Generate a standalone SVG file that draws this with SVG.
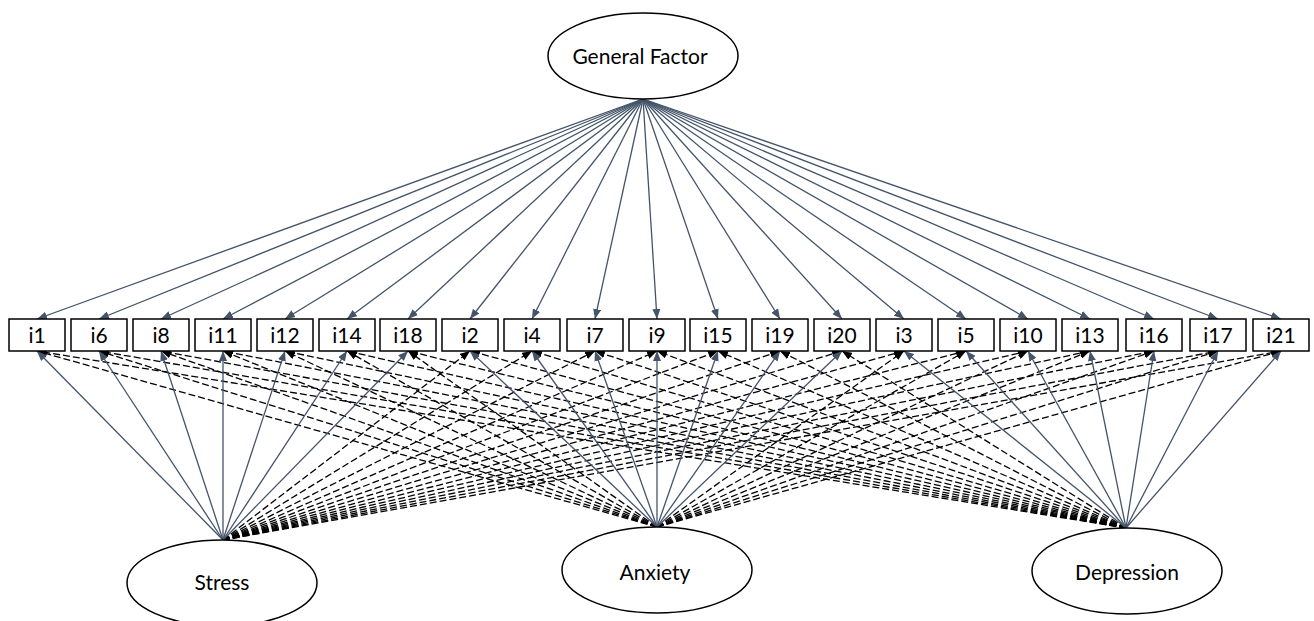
<svg xmlns="http://www.w3.org/2000/svg" width="1314" height="621" viewBox="0 0 1314 621">
<style>
.bg{fill:#ffffff}
.node ellipse{fill:#ffffff;stroke:#000000;stroke-width:1.5}
.node rect{fill:#ffffff;stroke:#000000;stroke-width:1.5}
.lbl{font-family:Lato,"Open Sans","Liberation Sans",sans-serif;font-size:21px;fill:#000000;text-anchor:middle}
.sl{stroke:#44546A;stroke-width:1.3;fill:none;marker-end:url(#ah)}
.dl{stroke:#000000;stroke-width:1.3;fill:none;stroke-dasharray:7,3;marker-end:url(#ahd)}
</style>
<defs>
<marker id="ah" markerUnits="userSpaceOnUse" markerWidth="10" markerHeight="8" refX="10" refY="4" orient="auto"><path d="M0,0 L10,4 L0,8 z" fill="#44546A"/></marker>
<marker id="ahd" markerUnits="userSpaceOnUse" markerWidth="10" markerHeight="8" refX="10" refY="4" orient="auto"><path d="M0,0 L10,4 L0,8 z" fill="#000000"/></marker>
</defs>
<rect class="bg" x="0" y="0" width="1314" height="621"/>
<g id="connectors">
<g id="general-loadings">
<line class="sl" x1="643" y1="99" x2="37" y2="319"/>
<line class="sl" x1="643" y1="99" x2="99" y2="319"/>
<line class="sl" x1="643" y1="99" x2="161" y2="319"/>
<line class="sl" x1="643" y1="99" x2="223" y2="319"/>
<line class="sl" x1="643" y1="99" x2="285" y2="319"/>
<line class="sl" x1="643" y1="99" x2="347" y2="319"/>
<line class="sl" x1="643" y1="99" x2="408" y2="319"/>
<line class="sl" x1="643" y1="99" x2="470" y2="319"/>
<line class="sl" x1="643" y1="99" x2="532" y2="319"/>
<line class="sl" x1="643" y1="99" x2="595" y2="319"/>
<line class="sl" x1="643" y1="99" x2="657" y2="319"/>
<line class="sl" x1="643" y1="99" x2="718" y2="319"/>
<line class="sl" x1="643" y1="99" x2="780" y2="319"/>
<line class="sl" x1="643" y1="99" x2="842" y2="319"/>
<line class="sl" x1="643" y1="99" x2="904" y2="319"/>
<line class="sl" x1="643" y1="99" x2="966" y2="319"/>
<line class="sl" x1="643" y1="99" x2="1028" y2="319"/>
<line class="sl" x1="643" y1="99" x2="1090" y2="319"/>
<line class="sl" x1="643" y1="99" x2="1154" y2="319"/>
<line class="sl" x1="643" y1="99" x2="1218" y2="319"/>
<line class="sl" x1="643" y1="99" x2="1281" y2="319"/>
</g>
<g id="cross-loadings">
<line class="dl" x1="223" y1="540" x2="470" y2="351"/>
<line class="dl" x1="223" y1="540" x2="532" y2="351"/>
<line class="dl" x1="223" y1="540" x2="595" y2="351"/>
<line class="dl" x1="223" y1="540" x2="657" y2="351"/>
<line class="dl" x1="223" y1="540" x2="718" y2="351"/>
<line class="dl" x1="223" y1="540" x2="780" y2="351"/>
<line class="dl" x1="223" y1="540" x2="842" y2="351"/>
<line class="dl" x1="223" y1="540" x2="904" y2="351"/>
<line class="dl" x1="223" y1="540" x2="966" y2="351"/>
<line class="dl" x1="223" y1="540" x2="1028" y2="351"/>
<line class="dl" x1="223" y1="540" x2="1090" y2="351"/>
<line class="dl" x1="223" y1="540" x2="1154" y2="351"/>
<line class="dl" x1="223" y1="540" x2="1218" y2="351"/>
<line class="dl" x1="223" y1="540" x2="1281" y2="351"/>
<line class="dl" x1="657" y1="527" x2="37" y2="351"/>
<line class="dl" x1="657" y1="527" x2="99" y2="351"/>
<line class="dl" x1="657" y1="527" x2="161" y2="351"/>
<line class="dl" x1="657" y1="527" x2="223" y2="351"/>
<line class="dl" x1="657" y1="527" x2="285" y2="351"/>
<line class="dl" x1="657" y1="527" x2="347" y2="351"/>
<line class="dl" x1="657" y1="527" x2="408" y2="351"/>
<line class="dl" x1="657" y1="527" x2="904" y2="351"/>
<line class="dl" x1="657" y1="527" x2="966" y2="351"/>
<line class="dl" x1="657" y1="527" x2="1028" y2="351"/>
<line class="dl" x1="657" y1="527" x2="1090" y2="351"/>
<line class="dl" x1="657" y1="527" x2="1154" y2="351"/>
<line class="dl" x1="657" y1="527" x2="1218" y2="351"/>
<line class="dl" x1="657" y1="527" x2="1281" y2="351"/>
<line class="dl" x1="1126" y1="528" x2="37" y2="351"/>
<line class="dl" x1="1126" y1="528" x2="99" y2="351"/>
<line class="dl" x1="1126" y1="528" x2="161" y2="351"/>
<line class="dl" x1="1126" y1="528" x2="223" y2="351"/>
<line class="dl" x1="1126" y1="528" x2="285" y2="351"/>
<line class="dl" x1="1126" y1="528" x2="347" y2="351"/>
<line class="dl" x1="1126" y1="528" x2="408" y2="351"/>
<line class="dl" x1="1126" y1="528" x2="470" y2="351"/>
<line class="dl" x1="1126" y1="528" x2="532" y2="351"/>
<line class="dl" x1="1126" y1="528" x2="595" y2="351"/>
<line class="dl" x1="1126" y1="528" x2="657" y2="351"/>
<line class="dl" x1="1126" y1="528" x2="718" y2="351"/>
<line class="dl" x1="1126" y1="528" x2="780" y2="351"/>
<line class="dl" x1="1126" y1="528" x2="842" y2="351"/>
</g>
<g id="specific-loadings">
<line class="sl" x1="223" y1="540" x2="37" y2="351"/>
<line class="sl" x1="223" y1="540" x2="99" y2="351"/>
<line class="sl" x1="223" y1="540" x2="161" y2="351"/>
<line class="sl" x1="223" y1="540" x2="223" y2="351"/>
<line class="sl" x1="223" y1="540" x2="285" y2="351"/>
<line class="sl" x1="223" y1="540" x2="347" y2="351"/>
<line class="sl" x1="223" y1="540" x2="408" y2="351"/>
<line class="sl" x1="657" y1="527" x2="470" y2="351"/>
<line class="sl" x1="657" y1="527" x2="532" y2="351"/>
<line class="sl" x1="657" y1="527" x2="595" y2="351"/>
<line class="sl" x1="657" y1="527" x2="657" y2="351"/>
<line class="sl" x1="657" y1="527" x2="718" y2="351"/>
<line class="sl" x1="657" y1="527" x2="780" y2="351"/>
<line class="sl" x1="657" y1="527" x2="842" y2="351"/>
<line class="sl" x1="1126" y1="528" x2="904" y2="351"/>
<line class="sl" x1="1126" y1="528" x2="966" y2="351"/>
<line class="sl" x1="1126" y1="528" x2="1028" y2="351"/>
<line class="sl" x1="1126" y1="528" x2="1090" y2="351"/>
<line class="sl" x1="1126" y1="528" x2="1154" y2="351"/>
<line class="sl" x1="1126" y1="528" x2="1218" y2="351"/>
<line class="sl" x1="1126" y1="528" x2="1281" y2="351"/>
</g>
</g>
<g id="general" class="node"><ellipse cx="643" cy="56" rx="95" ry="43"/><text class="lbl" x="640" y="64">General Factor</text></g>
<g id="stress" class="node"><ellipse cx="222" cy="583" rx="95" ry="43"/><text class="lbl" x="222" y="590">Stress</text></g>
<g id="anxiety" class="node"><ellipse cx="657" cy="570" rx="95" ry="43"/><text class="lbl" x="655" y="580">Anxiety</text></g>
<g id="depression" class="node"><ellipse cx="1127" cy="571" rx="95" ry="43"/><text class="lbl" x="1127" y="580">Depression</text></g>
<g id="n-i1" class="node"><rect x="9" y="319" width="56" height="32"/><text class="lbl" x="37" y="343">i1</text></g>
<g id="n-i6" class="node"><rect x="71" y="319" width="56" height="32"/><text class="lbl" x="99" y="343">i6</text></g>
<g id="n-i8" class="node"><rect x="133" y="319" width="56" height="32"/><text class="lbl" x="161" y="343">i8</text></g>
<g id="n-i11" class="node"><rect x="195" y="319" width="56" height="32"/><text class="lbl" x="223" y="343">i11</text></g>
<g id="n-i12" class="node"><rect x="257" y="319" width="56" height="32"/><text class="lbl" x="285" y="343">i12</text></g>
<g id="n-i14" class="node"><rect x="319" y="319" width="56" height="32"/><text class="lbl" x="347" y="343">i14</text></g>
<g id="n-i18" class="node"><rect x="380" y="319" width="56" height="32"/><text class="lbl" x="408" y="343">i18</text></g>
<g id="n-i2" class="node"><rect x="442" y="319" width="56" height="32"/><text class="lbl" x="470" y="343">i2</text></g>
<g id="n-i4" class="node"><rect x="504" y="319" width="56" height="32"/><text class="lbl" x="532" y="343">i4</text></g>
<g id="n-i7" class="node"><rect x="567" y="319" width="56" height="32"/><text class="lbl" x="595" y="343">i7</text></g>
<g id="n-i9" class="node"><rect x="629" y="319" width="56" height="32"/><text class="lbl" x="657" y="343">i9</text></g>
<g id="n-i15" class="node"><rect x="690" y="319" width="56" height="32"/><text class="lbl" x="718" y="343">i15</text></g>
<g id="n-i19" class="node"><rect x="752" y="319" width="56" height="32"/><text class="lbl" x="780" y="343">i19</text></g>
<g id="n-i20" class="node"><rect x="814" y="319" width="56" height="32"/><text class="lbl" x="842" y="343">i20</text></g>
<g id="n-i3" class="node"><rect x="876" y="319" width="56" height="32"/><text class="lbl" x="904" y="343">i3</text></g>
<g id="n-i5" class="node"><rect x="938" y="319" width="56" height="32"/><text class="lbl" x="966" y="343">i5</text></g>
<g id="n-i10" class="node"><rect x="1000" y="319" width="56" height="32"/><text class="lbl" x="1028" y="343">i10</text></g>
<g id="n-i13" class="node"><rect x="1062" y="319" width="56" height="32"/><text class="lbl" x="1090" y="343">i13</text></g>
<g id="n-i16" class="node"><rect x="1126" y="319" width="56" height="32"/><text class="lbl" x="1154" y="343">i16</text></g>
<g id="n-i17" class="node"><rect x="1190" y="319" width="56" height="32"/><text class="lbl" x="1218" y="343">i17</text></g>
<g id="n-i21" class="node"><rect x="1253" y="319" width="56" height="32"/><text class="lbl" x="1281" y="343">i21</text></g>
</svg>
